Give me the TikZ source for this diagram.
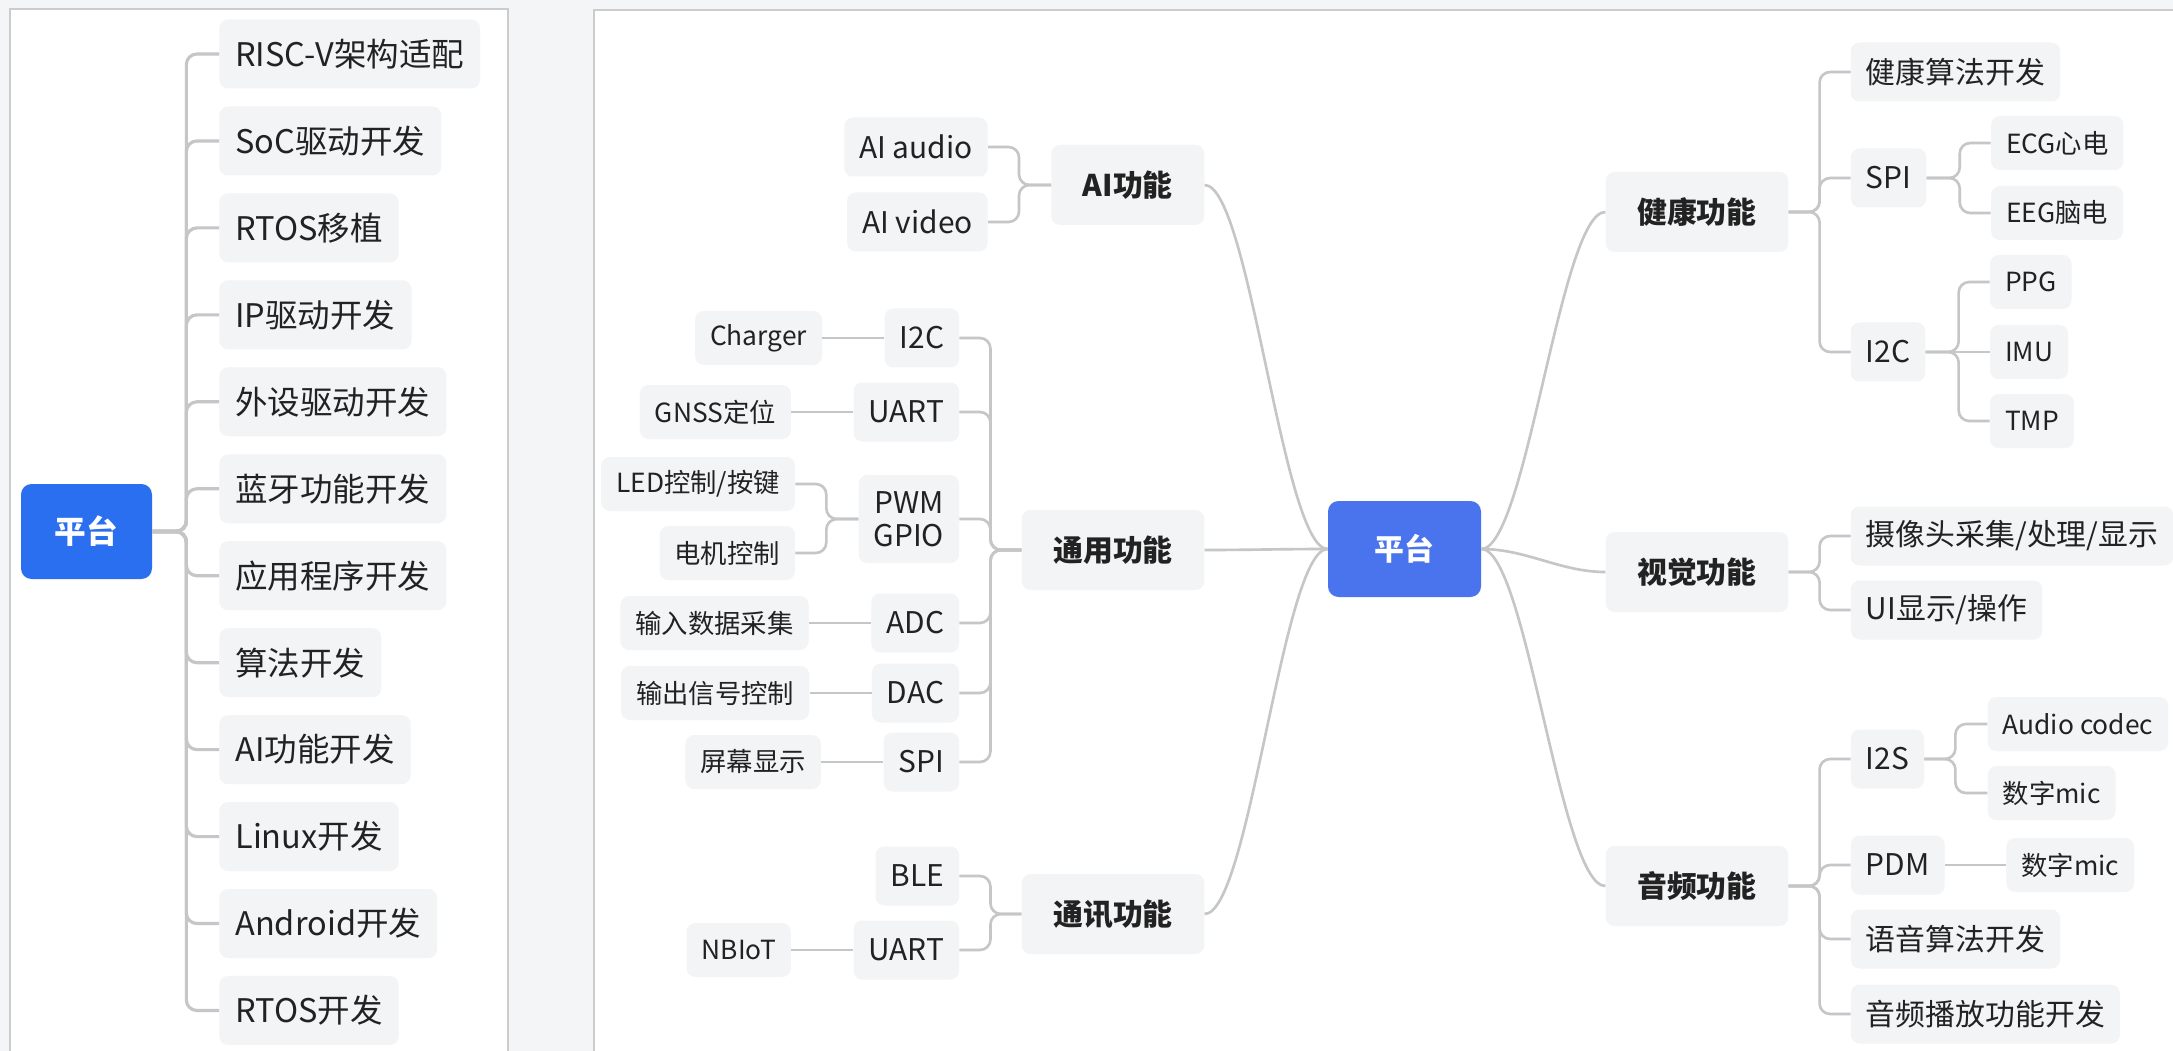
\documentclass[tikz,border=0pt]{standalone}
\usepackage{fontspec}
\setmainfont{Noto Sans CJK SC}
\usetikzlibrary{positioning}
\definecolor{rootcolor}{RGB}{42, 111, 239}
\definecolor{hubcolor}{RGB}{74, 115, 238}
\definecolor{boxcolor}{RGB}{243, 244, 246}
\definecolor{linkcolor}{RGB}{198, 198, 198}
\definecolor{textcolor}{RGB}{34, 34, 34}
\definecolor{framecolor}{RGB}{204, 204, 204}
\definecolor{bgcolor}{RGB}{244, 245, 247}
\tikzset{
    % Base styles
    basenode/.style={
        fill=boxcolor, text=textcolor,
        rounded corners=5pt, inner ysep=0pt, inner xsep=0.3cm
    },
    % Specific node types
    rootnode/.style={
        fill=rootcolor, text=white, rounded corners=6pt,
        font=\fontsize{18pt}{22pt}\selectfont\bfseries,
        minimum width=2.62cm, minimum height=1.9cm
    },
    hubnode/.style={rootnode, fill=hubcolor, font=\fontsize{17pt}{20pt}\selectfont\bfseries,
        minimum width=3.06cm, minimum height=1.92cm},
    itemnode/.style={basenode, inner xsep=0.32cm, minimum height=1.38cm, font=\fontsize{18.5pt}{22pt}\selectfont},
    catnode/.style={basenode, inner xsep=0.63cm, minimum height=1.6cm, font=\fontsize{17pt}{20pt}\selectfont\bfseries},
    subnode/.style={basenode, minimum height=1.18cm, font=\fontsize{17pt}{19pt}\selectfont},
    leafnode/.style={basenode, minimum height=1.08cm, font=\fontsize{15pt}{18pt}\selectfont},
    % Connectors
    link/.style={draw=linkcolor, line width=1.5pt, rounded corners=6pt},
    trunk/.style={link, line width=1.8pt},
    % Frames
    panel/.style={fill=white, draw=framecolor, line width=1.1pt},
}
\begin{document}
\begin{tikzpicture}

\useasboundingbox (0,0) rectangle (43.46,-21.02);
\fill[bgcolor] (0,0) rectangle (43.46,-21.02);
\draw[panel] (0.2,-0.18) rectangle (10.16,-21.4);
\draw[panel] (11.88,-0.2) rectangle (43.9,-21.4);

% Left panel
\node (lroot) [rootnode] at (1.73,-10.63) {平台};

\node (risc) [itemnode, anchor=west] at (4.38,-1.08) {RISC-V架构适配};
\node (soc) [itemnode, below=0.345cm of risc.south west, anchor=north west] {SoC驱动开发};
\node (rtosport) [itemnode, below=0.345cm of soc.south west, anchor=north west] {RTOS移植};
\node (ipdrv) [itemnode, below=0.345cm of rtosport.south west, anchor=north west] {IP驱动开发};
\node (periph) [itemnode, below=0.345cm of ipdrv.south west, anchor=north west] {外设驱动开发};
\node (bt) [itemnode, below=0.345cm of periph.south west, anchor=north west] {蓝牙功能开发};
\node (app) [itemnode, below=0.345cm of bt.south west, anchor=north west] {应用程序开发};
\node (algo) [itemnode, below=0.345cm of app.south west, anchor=north west] {算法开发};
\node (aidev) [itemnode, below=0.345cm of algo.south west, anchor=north west] {AI功能开发};
\node (linux) [itemnode, below=0.345cm of aidev.south west, anchor=north west] {Linux开发};
\node (android) [itemnode, below=0.345cm of linux.south west, anchor=north west] {Android开发};
\node (rtosdev) [itemnode, below=0.345cm of android.south west, anchor=north west] {RTOS开发};

% Right panel: centre and branches
\node (root) [hubnode] at (28.09,-10.98) {平台};

\node (ai) [catnode, left=2.46cm of root, yshift=7.28cm] {AI功能};
\node (general) [catnode, left=2.46cm of root, yshift=-0.02cm] {通用功能};
\node (comm) [catnode, left=2.46cm of root, yshift=-7.3cm] {通讯功能};
\node (health) [catnode, right=2.48cm of root, yshift=6.74cm] {健康功能};
\node (vision) [catnode, right=2.48cm of root, yshift=-0.46cm] {视觉功能};
\node (audio) [catnode, right=2.48cm of root, yshift=-6.74cm] {音频功能};

% AI
\node (aiaudio) [subnode, left=1.26cm of ai, yshift=0.76cm] {AI audio};
\node (aivideo) [subnode, left=1.26cm of ai, yshift=-0.74cm] {AI video};

% General purpose
\node (i2c) [subnode, left=1.24cm of general, yshift=4.24cm] {I2C};
\node (uart) [subnode, left=1.24cm of general, yshift=2.76cm] {UART};
\node (pwm) [subnode, align=center, minimum height=1.76cm, left=1.24cm of general, yshift=0.62cm] {PWM\\GPIO};
\node (adc) [subnode, left=1.24cm of general, yshift=-1.46cm] {ADC};
\node (dac) [subnode, left=1.24cm of general, yshift=-2.86cm] {DAC};
\node (spi) [subnode, left=1.24cm of general, yshift=-4.24cm] {SPI};

\node (charger) [leafnode, left=1.24cm of i2c] {Charger};
\node (gnss) [leafnode, left=1.24cm of uart] {GNSS定位};
\node (led) [leafnode, left=1.26cm of pwm, yshift=0.7cm] {LED控制/按键};
\node (motor) [leafnode, left=1.26cm of pwm, yshift=-0.68cm] {电机控制};
\node (input) [leafnode, left=1.24cm of adc] {输入数据采集};
\node (output) [leafnode, left=1.24cm of dac] {输出信号控制};
\node (screen) [leafnode, left=1.24cm of spi] {屏幕显示};

% Communication
\node (ble) [subnode, left=1.24cm of comm, yshift=0.76cm] {BLE};
\node (uartb) [subnode, left=1.24cm of comm, yshift=-0.72cm] {UART};
\node (nbiot) [leafnode, left=1.24cm of uartb] {NBIoT};

% Health
\node (healthalgo) [subnode, right=1.24cm of health, yshift=2.8cm] {健康算法开发};
\node (hspi) [subnode, right=1.24cm of health, yshift=0.68cm] {SPI};
\node (hi2c) [subnode, right=1.24cm of health, yshift=-2.8cm] {I2C};
\node (ecg) [leafnode, right=1.28cm of hspi, yshift=0.7cm] {ECG心电};
\node (eeg) [leafnode, right=1.28cm of hspi, yshift=-0.7cm] {EEG脑电};
\node (ppg) [leafnode, right=1.28cm of hi2c, yshift=1.4cm] {PPG};
\node (imu) [leafnode, right=1.28cm of hi2c] {IMU};
\node (tmp) [leafnode, right=1.28cm of hi2c, yshift=-1.38cm] {TMP};

% Vision
\node (camera) [subnode, right=1.24cm of vision, yshift=0.72cm] {摄像头采集/处理/显示};
\node (ui) [subnode, right=1.24cm of vision, yshift=-0.76cm] {UI显示/操作};

% Audio
\node (i2s) [subnode, right=1.24cm of audio, yshift=2.54cm] {I2S};
\node (pdm) [subnode, right=1.24cm of audio, yshift=0.42cm] {PDM};
\node (voicealgo) [subnode, right=1.24cm of audio, yshift=-1.06cm] {语音算法开发};
\node (playback) [subnode, right=1.24cm of audio, yshift=-2.56cm] {音频播放功能开发};
\node (codec) [leafnode, right=1.26cm of i2s, yshift=0.7cm] {Audio codec};
\node (mica) [leafnode, right=1.26cm of i2s, yshift=-0.68cm] {数字mic};
\node (micb) [leafnode, right=1.22cm of pdm] {数字mic};

% Links, left panel
\draw[trunk] (lroot.east) -- ++(0.68,0) |- (risc.west);
\draw[trunk] (lroot.east) -- ++(0.68,0) |- (soc.west);
\draw[trunk] (lroot.east) -- ++(0.68,0) |- (rtosport.west);
\draw[trunk] (lroot.east) -- ++(0.68,0) |- (ipdrv.west);
\draw[trunk] (lroot.east) -- ++(0.68,0) |- (periph.west);
\draw[trunk] (lroot.east) -- ++(0.68,0) |- (bt.west);
\draw[trunk] (lroot.east) -- ++(0.68,0) |- (app.west);
\draw[trunk] (lroot.east) -- ++(0.68,0) |- (algo.west);
\draw[trunk] (lroot.east) -- ++(0.68,0) |- (aidev.west);
\draw[trunk] (lroot.east) -- ++(0.68,0) |- (linux.west);
\draw[trunk] (lroot.east) -- ++(0.68,0) |- (android.west);
\draw[trunk] (lroot.east) -- ++(0.68,0) |- (rtosdev.west);

% Links, centre
\draw[link] (root.west) .. controls +(-0.9,0) and +(0.9,0) .. (ai.east);
\draw[link] (root.west) .. controls +(-0.9,0) and +(0.9,0) .. (general.east);
\draw[link] (root.west) .. controls +(-0.9,0) and +(0.9,0) .. (comm.east);
\draw[link] (root.east) .. controls +(0.9,0) and +(-0.9,0) .. (health.west);
\draw[link] (root.east) .. controls +(0.9,0) and +(-0.9,0) .. (vision.west);
\draw[link] (root.east) .. controls +(0.9,0) and +(-0.9,0) .. (audio.west);

% Links, left branches
\draw[link] (ai.west) -- ++(-0.64,0) |- (aiaudio.east);
\draw[link] (ai.west) -- ++(-0.64,0) |- (aivideo.east);
\draw[link] (general.west) -- ++(-0.62,0) |- (i2c.east);
\draw[link] (general.west) -- ++(-0.62,0) |- (uart.east);
\draw[link] (general.west) -- ++(-0.62,0) |- (pwm.east);
\draw[link] (general.west) -- ++(-0.62,0) |- (adc.east);
\draw[link] (general.west) -- ++(-0.62,0) |- (dac.east);
\draw[link] (general.west) -- ++(-0.62,0) |- (spi.east);
\draw[link] (i2c.west) -- (charger.east);
\draw[link] (uart.west) -- (gnss.east);
\draw[link] (pwm.west) -- ++(-0.64,0) |- (led.east);
\draw[link] (pwm.west) -- ++(-0.64,0) |- (motor.east);
\draw[link] (adc.west) -- (input.east);
\draw[link] (dac.west) -- (output.east);
\draw[link] (spi.west) -- (screen.east);
\draw[link] (comm.west) -- ++(-0.62,0) |- (ble.east);
\draw[link] (comm.west) -- ++(-0.62,0) |- (uartb.east);
\draw[link] (uartb.west) -- (nbiot.east);

% Links, right branches
\draw[link] (health.east) -- ++(0.62,0) |- (healthalgo.west);
\draw[link] (health.east) -- ++(0.62,0) |- (hspi.west);
\draw[link] (health.east) -- ++(0.62,0) |- (hi2c.west);
\draw[link] (hspi.east) -- ++(0.66,0) |- (ecg.west);
\draw[link] (hspi.east) -- ++(0.66,0) |- (eeg.west);
\draw[link] (hi2c.east) -- ++(0.66,0) |- (ppg.west);
\draw[link] (hi2c.east) -- (imu.west);
\draw[link] (hi2c.east) -- ++(0.66,0) |- (tmp.west);
\draw[link] (vision.east) -- ++(0.62,0) |- (camera.west);
\draw[link] (vision.east) -- ++(0.62,0) |- (ui.west);
\draw[link] (audio.east) -- ++(0.62,0) |- (i2s.west);
\draw[link] (audio.east) -- ++(0.62,0) |- (pdm.west);
\draw[link] (audio.east) -- ++(0.62,0) |- (voicealgo.west);
\draw[link] (audio.east) -- ++(0.62,0) |- (playback.west);
\draw[link] (i2s.east) -- ++(0.62,0) |- (codec.west);
\draw[link] (i2s.east) -- ++(0.62,0) |- (mica.west);
\draw[link] (pdm.east) -- (micb.west);

\end{tikzpicture}
\end{document}
